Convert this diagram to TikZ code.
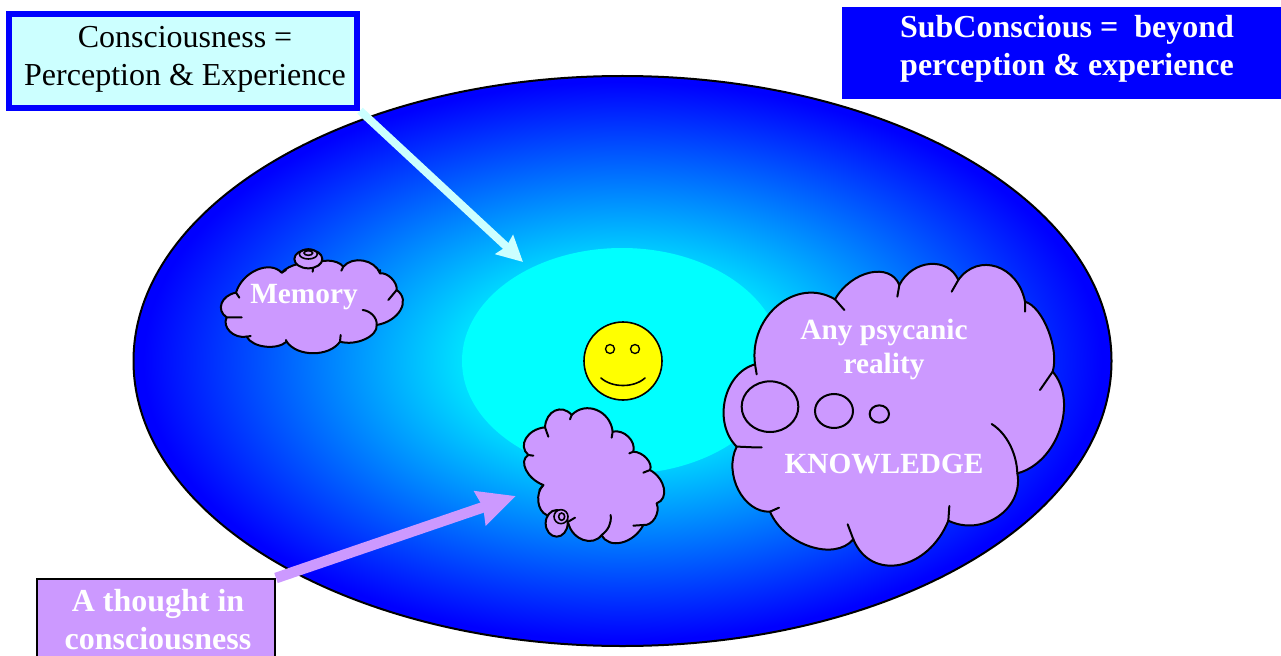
\documentclass[tikz,border=0pt]{standalone}
\usepackage{fontspec}
\setmainfont{Liberation Serif}
\usetikzlibrary{calc,arrows.meta}
\definecolor{lilac}{HTML}{CC99FF}
\definecolor{pale}{HTML}{CCFFFF}
\definecolor{pureblue}{HTML}{0000FF}
\definecolor{purecyan}{HTML}{00FFFF}
\definecolor{pureyellow}{HTML}{FFFF00}
\pgfdeclareradialshading{mindglow}{\pgfpoint{0bp}{0bp}}{color(0bp)=(purecyan); color(6bp)=(purecyan); color(24.5bp)=(pureblue); color(50bp)=(pureblue)}
\def\lobe#1#2#3{.. controls ($0.133*(#1)+1.333*(#2)-0.467*(#3)$) and ($0.133*(#3)+1.333*(#2)-0.467*(#1)$) .. (#3)}
\tikzset{
  cloudfill/.style={fill=lilac,draw=black,line width=1.5pt,line join=round},
  cloudtick/.style={draw=black,line width=1.5pt,line cap=round},
  cloudtext/.style={text=white,font=\bfseries\fontsize{22}{25.5}\selectfont,align=center,inner sep=0pt},
  boxtext/.style={align=center,inner sep=0pt,font=\fontsize{24}{28.5}\selectfont},
  boldtext/.style={align=center,inner sep=0pt,text=white,font=\bfseries\fontsize{24}{28.5}\selectfont}
}
\begin{document}
\begin{tikzpicture}[x=0.75pt,y=-0.75pt]
\useasboundingbox (0,0) rectangle (1281,656);
% main ellipse
\shade[shading=mindglow] (622.5,361) ellipse [x radius=489,y radius=285];
\draw[black,line width=1.5pt] (622.5,361) ellipse [x radius=489,y radius=285];
\fill[purecyan] (622,361) ellipse [x radius=160,y radius=113];
% smiley
\draw[fill=pureyellow,line width=1.2pt] (623,361) circle [radius=39];
\draw[fill=pureyellow,line width=1pt] (610,349) circle [radius=4.5];
\draw[fill=pureyellow,line width=1pt] (635,349) circle [radius=4.5];
\draw[line width=1.2pt,line cap=round] (601,378) .. controls (612,388) and (634,388) .. (645,378);
% Memory cloud
\begin{scope}[shift={(200,230)},x=0.25pt,y=-0.25pt]
\draw[cloudfill] (108,188) \lobe{108,188}{170,120}{245,128} \lobe{245,128}{295,102}{340,108} \lobe{340,108}{385,92}{430,110} \lobe{430,110}{490,92}{540,130} \lobe{540,130}{575,145}{590,180} \lobe{590,180}{602,240}{530,285} \lobe{530,285}{495,328}{420,335} \lobe{420,335}{340,370}{260,335} \lobe{260,335}{195,350}{140,320} \lobe{140,320}{90,305}{80,262} \lobe{80,262}{65,220}{108,188} -- cycle;
\draw[cloudtick] (108,188)--(118,203) (245,128)--(258,120) (340,108)--(338,125) (430,110)--(424,122) (540,130)--(540,120) (590,180)--(565,210) (420,335)--(422,315) (260,335)--(258,330) (140,320)--(152,318) (80,262)--(125,262);
\draw[cloudtick] (530,285) .. controls (532,262) and (510,242) .. (488,240);
\draw[cloudfill] (325,87) ellipse [x radius=42,y radius=28];
\draw[cloudtick,line width=1.2pt] (325,72) ellipse [x radius=27,y radius=15];
\draw[cloudtick,line width=1.2pt] (325,69) ellipse [x radius=13,y radius=7];
\end{scope}
\node[cloudtext] (memory) at (304,297) {Memory};
% Thought cloud
\begin{scope}[shift={(500,390)},x=0.25pt,y=-0.25pt]
\draw[cloudfill] (135,112) \lobe{135,112}{165,62}{215,75} \lobe{215,75}{290,60}{338,125} \lobe{338,125}{385,140}{400,185} \lobe{400,185}{440,205}{450,240} \lobe{450,240}{492,295}{470,340} \lobe{470,340}{465,385}{430,405} \lobe{430,405}{365,458}{305,435} \lobe{305,435}{250,450}{205,400} -- (140,375) \lobe{140,375}{115,335}{130,285} \lobe{130,285}{78,240}{85,195} \lobe{85,195}{78,145}{135,112} -- cycle;
\draw[cloudtick] (135,112)--(145,140) (215,75)--(210,88) (338,125)--(335,143) (400,185)--(388,190) (450,240)--(430,248) (430,405)--(400,407) (130,285)--(118,300) (85,195)--(100,197) (205,395)--(225,383);
\draw[cloudtick] (305,435) .. controls (325,420) and (335,400) .. (332,375);
\draw[cloudfill] (170,400) ellipse [x radius=33,y radius=40];
\draw[cloudfill,line width=1.2pt] (183,380) ellipse [x radius=21,y radius=21];
\draw[cloudtick,line width=1.2pt] (185,380) ellipse [x radius=9,y radius=11];
\end{scope}
% Knowledge cloud
\begin{scope}[shift={(710,250)},x=0.25pt,y=-0.25pt]
\draw[cloudfill] (135,343) \lobe{135,343}{205,165}{375,148} \lobe{375,148}{480,68}{568,105} \lobe{568,105}{660,42}{745,90} \lobe{745,90}{860,50}{945,155} \lobe{945,155}{1015,240}{1028,365} \lobe{1028,365}{1050,540}{922,670} \lobe{922,670}{865,800}{715,812} \lobe{715,812}{570,945}{430,868} \lobe{430,868}{300,890}{180,785} \lobe{180,785}{85,720}{80,590} \lobe{80,590}{45,450}{135,343} -- cycle;
\draw[cloudtick] (375,148)--(403,180) (568,105)--(562,140) (745,90)--(725,125) (945,155)--(945,185) (1028,365)--(990,420) (715,812)--(718,768) (430,868)--(413,823) (180,785)--(207,773) (135,343)--(140,373);
\draw[cloudtick] (922,670) .. controls (920,610) and (890,550) .. (845,522);
\draw[cloudtick] (80,590) .. controls (100,590) and (130,593) .. (155,592);
\draw[cloudtick] (180,470) ellipse [x radius=85,y radius=76];
\draw[cloudtick] (372,483) ellipse [x radius=57,y radius=51];
\draw[cloudtick] (508,492) ellipse [x radius=29,y radius=26];
\end{scope}
\node[cloudtext] (anypsy) at (884,349) {Any psycanic\\reality};
\node[cloudtext] (know) at (884,464) {KNOWLEDGE};
% boxes
\node[draw=pureblue,line width=4.5pt,fill=pale,minimum width=261pt,minimum height=70pt,inner sep=0pt] (cons) at (183,61) {};
\node[boxtext] (constext) at (185,59) {Consciousness =\\Perception \& Experience};
\node[fill=pureblue,minimum width=329.25pt,minimum height=69pt,inner sep=0pt] (subc) at (1061.5,53) {};
\node[boldtext] (subctext) at (1067,49) {SubConscious =~~beyond\\perception \& experience};
\node[draw=black,line width=1.5pt,fill=lilac,minimum width=178.5pt,minimum height=60pt,inner sep=0pt] (thoughtbox) at (156,619) {};
\node[boldtext] (thoughttext) at (158,619.5) {A thought in\\consciousness};
% connectors
\coordinate (tipa) at (523,262);
\coordinate (tipb) at (516,496);
\draw[pale,line width=6pt,-{Stealth[length=19pt,width=19pt,inset=2pt]}] (cons.south east) -- (tipa);
\draw[lilac,line width=8pt,-{Stealth[length=28pt,width=26pt,inset=2pt]}] (thoughtbox.north east) -- (tipb);
\end{tikzpicture}
\end{document}
